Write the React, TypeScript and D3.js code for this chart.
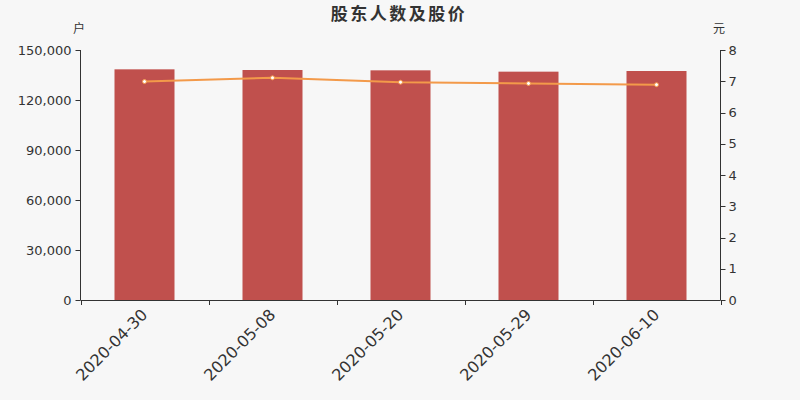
import React from "react";
import * as d3 from "d3";

const categories = ["2020-04-30", "2020-05-08", "2020-05-20", "2020-05-29", "2020-06-10"];
const holders = [138400, 138000, 137800, 137000, 137400];
const prices = [6.99, 7.11, 6.97, 6.93, 6.89];
const leftTicks = [0, 30000, 60000, 90000, 120000, 150000];
const rightTicks = [0, 1, 2, 3, 4, 5, 6, 7, 8];

const W = 800, H = 400;
const M = { left: 80.5, right: 720.5, top: 50, bottom: 300 };
const FONT = "'DejaVu Sans', 'Noto Sans CJK SC', sans-serif";

export default function App() {
  const x = d3.scaleBand<string>().domain(categories).range([M.left, M.right]);
  const yL = d3.scaleLinear().domain([0, 150000]).range([M.bottom, M.top]);
  const yR = d3.scaleLinear().domain([0, 8]).range([M.bottom, M.top]);
  const fmt = d3.format(",");
  const barW = 60;
  const cx = (c: string) => (x(c) as number) + x.bandwidth() / 2;
  const line = d3.line<number>().x((_, i) => cx(categories[i])).y((d) => yR(d));
  const boundaries = categories.map((c) => x(c) as number).concat([M.right]);

  return (
    <svg width={W} height={H} style={{ position: "absolute", left: 0, top: 0, background: "#f7f7f7" }} fontFamily={FONT}>
      <rect x={0} y={0} width={W} height={H} fill="#f7f7f7" />
      <text x={399} y={20} textAnchor="middle" fontSize={17} fontWeight="bold" letterSpacing={2.5} fill="#333" fontFamily="'Noto Sans CJK SC', sans-serif">股东人数及股价</text>
      <text x={79} y={33} textAnchor="middle" fontSize={12} fill="#333" fontFamily="'Noto Sans CJK SC', sans-serif">户</text>
      <text x={719} y={33} textAnchor="middle" fontSize={12} fill="#333" fontFamily="'Noto Sans CJK SC', sans-serif">元</text>

      {categories.map((c, i) => (
        <rect key={c} x={cx(c) - barW / 2} y={yL(holders[i])} width={barW} height={M.bottom - yL(holders[i])} fill="#c0504d" />
      ))}

      {/* left axis */}
      <line x1={M.left} x2={M.left} y1={M.top} y2={M.bottom} stroke="#333" />
      {leftTicks.map((t) => (
        <g key={t}>
          <line x1={M.left - 5} x2={M.left} y1={Math.round(yL(t)) + 0.5} y2={Math.round(yL(t)) + 0.5} stroke="#333" />
          <text x={M.left - 9} y={yL(t)} dy="0.35em" textAnchor="end" fontSize={13} fill="#333">{fmt(t)}</text>
        </g>
      ))}
      {/* right axis */}
      <line x1={M.right} x2={M.right} y1={M.top} y2={M.bottom} stroke="#333" />
      {rightTicks.map((t) => (
        <g key={t}>
          <line x1={M.right} x2={M.right + 5} y1={Math.round(yR(t)) + 0.5} y2={Math.round(yR(t)) + 0.5} stroke="#333" />
          <text x={M.right + 8} y={yR(t)} dy="0.35em" textAnchor="start" fontSize={13} fill="#333">{t}</text>
        </g>
      ))}
      {/* x axis */}
      <line x1={M.left} x2={M.right} y1={M.bottom + 0.5} y2={M.bottom + 0.5} stroke="#333" />
      {boundaries.map((b, i) => (
        <line key={i} x1={Math.round(b) + 0.5} x2={Math.round(b) + 0.5} y1={M.bottom} y2={M.bottom + 5} stroke="#333" />
      ))}
      {categories.map((c) => (
        <text key={c} transform={`translate(${cx(c) - 4},${M.bottom + 8}) rotate(-45)`} textAnchor="end" dy="0.7em" fontSize={16} fill="#333">{c}</text>
      ))}

      <path d={line(prices) || ""} fill="none" stroke="#f39a4a" strokeWidth={2} />
      {prices.map((p, i) => (
        <circle key={i} cx={cx(categories[i])} cy={yR(p)} r={2} fill="#fff" stroke="#f39a4a" strokeWidth={1} />
      ))}
    </svg>
  );
}
